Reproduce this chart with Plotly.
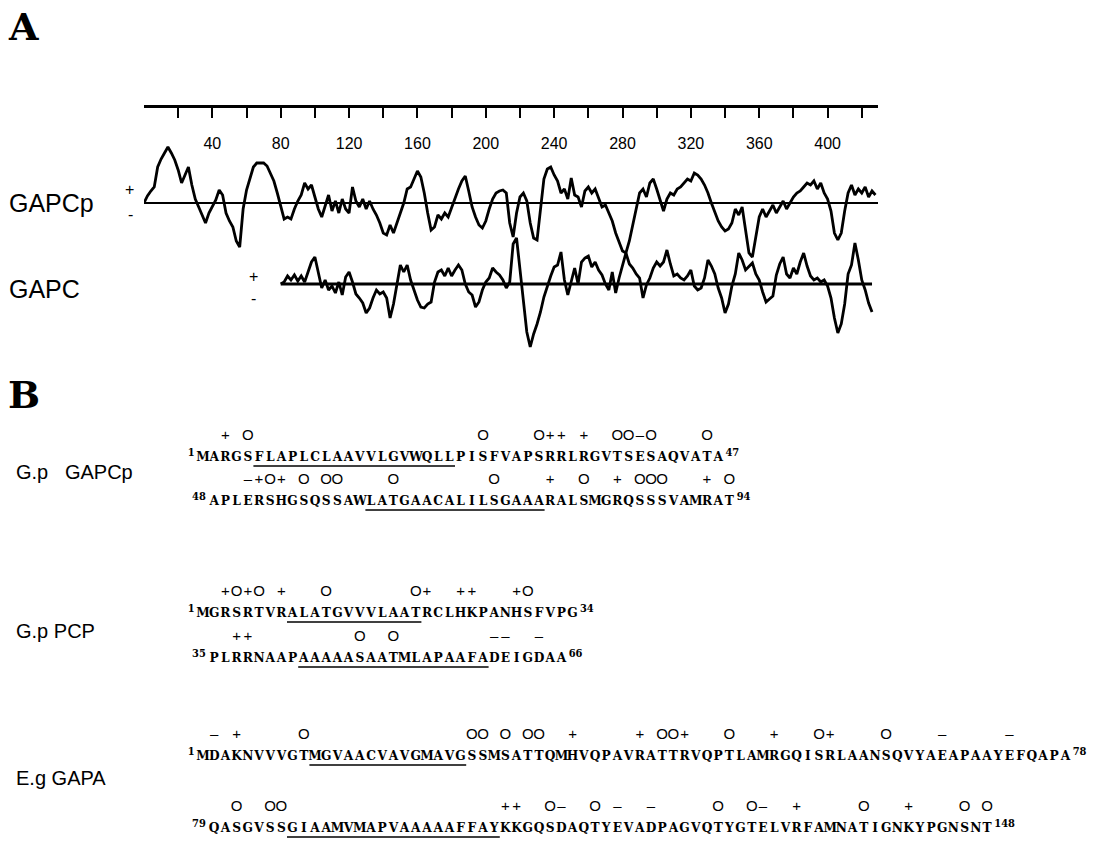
import plotly.graph_objects as go

W, H = 1095, 843

# ---------------- Panel A : hydropathy profiles ----------------
X_TICKS = [0, 20, 40, 60, 80, 100, 120, 140, 160, 180, 200, 220, 240, 260,
           280, 300, 320, 340, 360, 380, 400, 420, 429.5]
X_LABEL_VALS = [40, 80, 120, 160, 200, 240, 280, 320, 360, 400]
X_LABEL_TEXT = ["40", "80", "120", "160", "200", "240", "280", "320", "360", "400"]
X_END = 429.5

GAPCP_RES = list(range(0, 430, 2))
GAPCP_VAL = [
    0, 7, 12, 16, 36, 44, 50, 56, 50, 43,
    33, 20, 28, 36, 18, 4, -4, -12, -20, -10,
    -3, 3, 13, 8, -10, -18, -24, -38, -44, -6,
    13, 24, 36, 40, 40, 40, 37, 30, 22, 10,
    -4, -16, -14, -16, -6, 2, 8, 20, 14, 18,
    6, -6, -14, -4, 8, -8, 2, -10, 4, -6,
    -10, 16, 2, -4, 4, -6, 2, -6, -12, -20,
    -30, -32, -22, -30, -20, -10, 0, 14, 16, 24,
    32, 26, 10, -10, -27, -24, -12, -16, -10, -14,
    -4, 6, 14, 22, 27, 12, -4, -14, -22, -25,
    -18, -6, 4, 10, 12, 13, 10, -20, -34, -10,
    6, 10, 2, -20, -35, -37, -8, 24, 34, 36,
    28, 22, 10, 14, 4, 25, 8, 6, -4, 12,
    16, 10, 14, 4, -4, -2, -10, -18, -30, -40,
    -48, -50, -38, -22, -6, 10, 14, 6, 20, 24,
    14, 2, -8, 4, 10, 8, 14, 16, 20, 24,
    22, 30, 28, 24, 18, 10, 0, -10, -18, -24,
    -28, -26, -20, -6, -12, -4, -28, -50, -54, -36,
    -14, -6, -14, -8, -2, -10, -4, 2, -6, 0,
    6, 10, 12, 16, 20, 18, 22, 14, 20, 10,
    4, -8, -30, -37, -30, -8, 10, 18, 8, 14,
    10, 16, 6, 12, 8,
]

GAPC_RES = list(range(80, 428, 2))
GAPC_VAL = [
    0, 2, 8, 4, 9, 3, 8, 2, 12, 22,
    27, 10, -4, 4, -6, -2, -9, 2, -11, 7,
    12, 2, -10, -14, -19, -29, -24, -14, -6, -10,
    -8, -14, -34, -20, -1, 19, 12, 19, 4, -6,
    -16, -23, -24, -20, -18, 2, 12, 14, 8, 16,
    8, 14, 19, 14, 0, -8, -11, -23, -18, -6,
    2, 6, 16, 12, 9, 4, -4, 2, 40, 46,
    16, -20, -48, -63, -50, -40, -28, -13, -2, 8,
    17, 19, 32, 4, -11, 4, 16, 0, 22, 26,
    28, 17, 22, 14, 9, 0, -6, 12, -9, 6,
    20, 31, 20, 16, 10, 6, -14, -1, 6, 16,
    22, 18, 22, 34, 20, 8, 10, 6, 4, 8,
    14, -2, -6, -4, 6, 24, 18, 10, -4, -14,
    -29, -20, -2, 10, 31, 24, 14, 18, 21, 10,
    4, -8, -18, -15, -12, 9, 20, 27, 10, 6,
    16, 10, 22, 31, 18, 8, 4, 6, 2, 4,
    -2, -14, -34, -49, -40, -20, 10, 19, 41, 24,
    4, -6, -19, -28,
]

# ---------------- Panel B : sequences ----------------
SEQ_GAPCP_1 = "MARGSFLAPLCLAAVVLGVWQLLPISFVAPSRRLRGVTSESAQVATA"
SEQ_GAPCP_2 = "APLERSHGSQSSAWLATGAACALILSGAAARALSMGRQSSSVAMRAT"
SEQ_PCP_1 = "MGRSRTVRALATGVVVLAATRCLHKPANHSFVPG"
SEQ_PCP_2 = "PLRRNAAPAAAAASAATMLAPAAFADEIGDAA"
SEQ_GAPA_1 = "MDAKNVVVGTMGVAACVAVGMAVGSSMSATTQMHVQPAVRATTRVQPTLAMRGQISRLAANSQVYAEAPAAYEFQAPA"
SEQ_GAPA_2 = "QASGVSSGIAAMVMAPVAAAAAFFAYKKGQSDAQTYEVADPAGVQTYGTELVRFAMNATIGNKYPGNSNT"

MARKS_GAPCP_1 = "  + O" + " " * 20 + "O" + " " * 4 + "O++ +" + "  " + "OO-O" + "    " + "O "
MARKS_GAPCP_2 = "   -+O+ O OO" + "    " + "O" + " " * 8 + "O" + "    " + "+" + "  " + "O" + "  " + "+ OOO" + "   " + "+ O"
MARKS_PCP_1 = "  +O+O +" + "   " + "O" + " " * 7 + "O+" + "  " + "++" + "   " + "+O" + "    "
MARKS_PCP_2 = "  ++" + " " * 9 + "O" + "  " + "O" + " " * 8 + "--" + "  " + "-" + "  "
MARKS_GAPA_1 = (" - +" + " " * 5 + "O" + " " * 14 + "OO O OO" + "  " + "+" + " " * 5 + "+ OO+" + "   " + "O" + "   "
                + "+" + "   " + "O+" + "    " + "O" + "    " + "-" + " " * 5 + "-" + " " * 5)
MARKS_GAPA_2 = ("  O" + "  " + "OO" + " " * 19 + "++" + "  " + "O-" + "  " + "O -" + "  " + "-" + " " * 5 + "O" + "  "
                + "O-" + "  " + "+" + " " * 5 + "O" + "   " + "+" + "    " + "O O")

START_NUMS = ["1", "48", "1", "35", "1", "79"]
END_NUMS = ["47", "94", "34", "66", "78", "148"]
UNDERLINES = [(6, 23), (15, 30), (9, 20), (9, 25), (11, 24), (8, 26)]

SEQS = [SEQ_GAPCP_1, SEQ_GAPCP_2, SEQ_PCP_1, SEQ_PCP_2, SEQ_GAPA_1, SEQ_GAPA_2]
MARKS = [MARKS_GAPCP_1, MARKS_GAPCP_2, MARKS_PCP_1, MARKS_PCP_2, MARKS_GAPA_1, MARKS_GAPA_2]

# layout constants (pixel rows for panel B, residue 1 at px 203, 11.2 px per residue)
ROW_Y = [458, 502, 614, 659, 757, 829]
MARK_DY = -22
CHAR_W = 11.2
RES1_PX = 203.0
OFFSETS = {1: 0.0, 2: 1.0}

fig = go.Figure()

# --- panel A traces
fig.add_trace(go.Scatter(x=[GAPCP_RES[0], X_END], y=[0, 0], mode="lines",
                         line=dict(color="black", width=2), xaxis="x", yaxis="y",
                         hoverinfo="skip", showlegend=False))
fig.add_trace(go.Scatter(x=GAPCP_RES, y=GAPCP_VAL, mode="lines",
                         line=dict(color="black", width=2.8), xaxis="x", yaxis="y",
                         name="GAPCp", showlegend=False))
fig.add_trace(go.Scatter(x=[GAPC_RES[0], GAPC_RES[-1]], y=[0, 0], mode="lines",
                         line=dict(color="black", width=3), xaxis="x", yaxis="y3",
                         hoverinfo="skip", showlegend=False))
fig.add_trace(go.Scatter(x=GAPC_RES, y=GAPC_VAL, mode="lines",
                         line=dict(color="black", width=2.8), xaxis="x", yaxis="y3",
                         name="GAPC", showlegend=False))
# dummy trace for tick label axis
fig.add_trace(go.Scatter(x=[None], y=[None], xaxis="x4", yaxis="y4", showlegend=False,
                         hoverinfo="skip"))

# --- panel B traces
SERIF = "DejaVu Serif Condensed, DejaVu Serif, serif"
seq_font = dict(family=SERIF, size=13.6, color="black", weight="bold")
mark_font = dict(family="Liberation Sans, Arial, sans-serif", size=15, color="black")
num_font = dict(family=SERIF, size=11, color="black", weight="bold")
MARK_GLYPH = {"+": "+", "O": "O", "-": "–"}

for seq, marks, sn, en, (u0, u1), ry in zip(SEQS, MARKS, START_NUMS, END_NUMS, UNDERLINES, ROW_Y):
    off = OFFSETS.get(len(sn), 1.0)
    n = len(seq)
    xs = [off + i for i in range(1, n + 1)]
    fig.add_trace(go.Scatter(x=xs, y=[ry] * n, mode="text", text=list(seq),
                             textposition="middle center", textfont=seq_font,
                             xaxis="x2", yaxis="y2", hoverinfo="skip", showlegend=False))
    mx, mt = [], []
    for i, c in enumerate(marks[:n]):
        if c != " ":
            mx.append(off + i + 1)
            mt.append(MARK_GLYPH.get(c, c))
    fig.add_trace(go.Scatter(x=mx, y=[ry + MARK_DY] * len(mx), mode="text", text=mt,
                             textposition="middle center", textfont=mark_font,
                             xaxis="x2", yaxis="y2", hoverinfo="skip", showlegend=False))
    fig.add_trace(go.Scatter(x=[off + 0.25], y=[ry - 5], mode="text", text=[sn],
                             textposition="middle left", textfont=num_font,
                             xaxis="x2", yaxis="y2", hoverinfo="skip", showlegend=False))
    fig.add_trace(go.Scatter(x=[off + n + 0.65], y=[ry - 5], mode="text", text=[en],
                             textposition="middle right", textfont=num_font,
                             xaxis="x2", yaxis="y2", hoverinfo="skip", showlegend=False))
    fig.add_trace(go.Scatter(x=[off + u0 - 0.5, off + u1 + 0.5], y=[ry + 8, ry + 8], mode="lines",
                             line=dict(color="black", width=1.5),
                             xaxis="x2", yaxis="y2", hoverinfo="skip", showlegend=False))


def py(p):
    return 1 - p / H


def px(p):
    return p / W


xb0 = 1 - RES1_PX / CHAR_W
xb1 = xb0 + W / CHAR_W

fig.update_layout(
    width=W, height=H, margin=dict(l=0, r=0, t=0, b=0),
    paper_bgcolor="white", plot_bgcolor="rgba(0,0,0,0)",
    showlegend=False,
    xaxis=dict(domain=[px(144), px(878)], range=[0, X_END], side="top", anchor="y",
               showline=True, linecolor="black", linewidth=3, ticks="inside",
               ticklen=10, tickwidth=2, tickcolor="black", tickvals=X_TICKS,
               showticklabels=False, showgrid=False, zeroline=False, fixedrange=True),
    yaxis=dict(domain=[py(262), py(108)], range=[-59, 95], visible=False, fixedrange=True),
    yaxis3=dict(domain=[py(362), py(228)], range=[-78, 56], visible=False, fixedrange=True,
                anchor="x"),
    xaxis4=dict(domain=[px(144), px(878)], range=[0, X_END], anchor="y4", side="bottom",
                showline=False, ticks="", tickvals=X_LABEL_VALS, ticktext=X_LABEL_TEXT,
                tickfont=dict(family="Liberation Sans, Arial, sans-serif", size=16, color="black"),
                showgrid=False, zeroline=False, fixedrange=True),
    yaxis4=dict(domain=[py(132), py(122)], range=[0, 1], visible=False, fixedrange=True),
    xaxis2=dict(domain=[0, 1], range=[xb0, xb1], visible=False, anchor="y2", fixedrange=True),
    yaxis2=dict(domain=[0, 1], range=[H, 0], visible=False, anchor="x2", fixedrange=True),
)

sans = "Liberation Sans, Arial, sans-serif"
ann = [
    dict(text="A", x=px(6), y=py(26), font=dict(family="DejaVu Serif", size=38, color="black", weight="bold")),
    dict(text="B", x=px(6), y=py(394), font=dict(family="DejaVu Serif", size=38, color="black", weight="bold")),
    dict(text="GAPCp", x=px(7), y=py(203), font=dict(family=sans, size=25, color="black")),
    dict(text="GAPC", x=px(7), y=py(289), font=dict(family=sans, size=25, color="black")),
    dict(text="+", x=px(123), y=py(190), font=dict(family=sans, size=16, color="black")),
    dict(text="-", x=px(126), y=py(214), font=dict(family=sans, size=16, color="black")),
    dict(text="+", x=px(247), y=py(276), font=dict(family=sans, size=16, color="black")),
    dict(text="-", x=px(249), y=py(298), font=dict(family=sans, size=16, color="black")),
    dict(text="G.p   GAPCp", x=px(14), y=py(472), font=dict(family=sans, size=20, color="black")),
    dict(text="G.p PCP", x=px(14), y=py(631), font=dict(family=sans, size=20, color="black")),
    dict(text="E.g GAPA", x=px(14), y=py(778), font=dict(family=sans, size=20, color="black")),
]
for a in ann:
    a.update(xref="paper", yref="paper", xanchor="left", yanchor="middle", showarrow=False)
fig.update_layout(annotations=ann)

fig.write_html("out.html", config={"displayModeBar": False},
               post_script="document.body.style.margin='0';document.body.style.overflow='hidden';")
